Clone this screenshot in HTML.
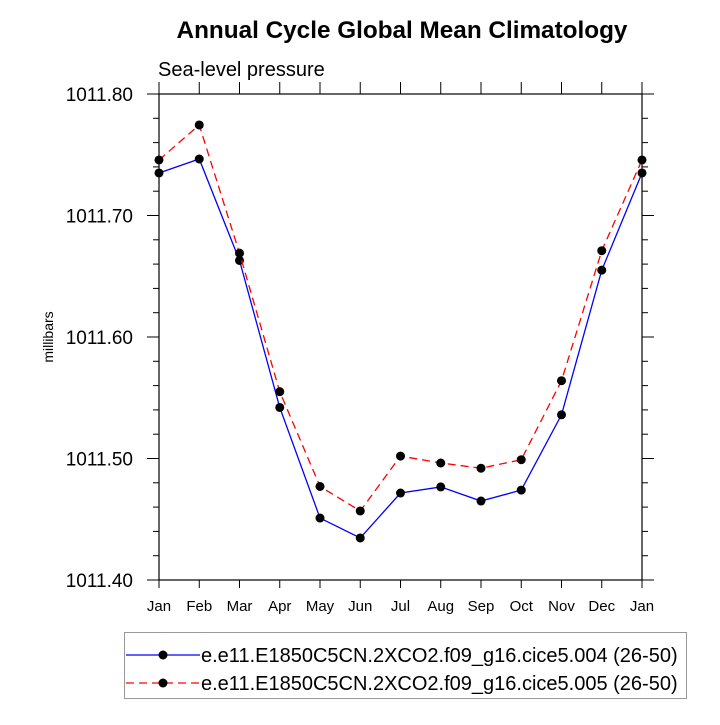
<!DOCTYPE html>
<html><head><meta charset="utf-8"><style>
body{margin:0;background:#fff;}
svg text{font-family:"Liberation Sans",sans-serif;fill:#000;}
</style></head><body>
<svg id="chart" width="720" height="720" viewBox="0 0 720 720" xmlns="http://www.w3.org/2000/svg">
<text x="402" y="38" font-size="24.3" font-weight="bold" text-anchor="middle">Annual Cycle Global Mean Climatology</text>
<text x="158" y="76" font-size="20">Sea-level pressure</text>
<text x="0" y="0" font-size="14" text-anchor="middle" transform="translate(53,337) rotate(-90)">millibars</text>
<g id="axes"></g>
<g id="series"></g>
<g>
<rect x="124.5" y="632.5" width="562" height="66" fill="none" stroke="#999" stroke-width="1"/>
<line x1="126" y1="655" x2="200" y2="655" stroke="#0000ff" stroke-width="1.3"/>
<circle cx="163" cy="655" r="4.5" fill="#000"/>
<text x="201" y="662" font-size="20">e.e11.E1850C5CN.2XCO2.f09_g16.cice5.004 (26-50)</text>
<line x1="126" y1="683" x2="200" y2="683" stroke="#ff0000" stroke-width="1.3" stroke-dasharray="8,5"/>
<circle cx="163" cy="683" r="4.5" fill="#000"/>
<text x="201" y="690" font-size="20">e.e11.E1850C5CN.2XCO2.f09_g16.cice5.005 (26-50)</text>
</g>
</svg>
<script>
const months = ["Jan","Feb","Mar","Apr","May","Jun","Jul","Aug","Sep","Oct","Nov","Dec","Jan"];
const series004 = [1011.735,1011.7465,1011.663,1011.542,1011.451,1011.4346,1011.4716,1011.4766,1011.465,1011.474,1011.536,1011.655,1011.735];
const series005 = [1011.7457,1011.7745,1011.669,1011.555,1011.477,1011.4568,1011.502,1011.4963,1011.492,1011.499,1011.564,1011.671,1011.7457];
const yTicks = [1011.40,1011.50,1011.60,1011.70,1011.80];
const yTickLabels = ["1011.40","1011.50","1011.60","1011.70","1011.80"];
const X0=159,X1=642,Y0=580,Y1=94,YMIN=1011.40,YMAX=1011.80;
const ns="http://www.w3.org/2000/svg";
function xs(i){return X0+(X1-X0)*i/(months.length-1);}
function ys(v){return Y0-(v-YMIN)/(YMAX-YMIN)*(Y0-Y1);}
function mk(tag,attrs,parent){const e=document.createElementNS(ns,tag);for(const k in attrs)e.setAttribute(k,attrs[k]);parent.appendChild(e);return e;}
const ax=document.getElementById('axes');
const frame=mk('rect',{x:X0,y:Y1,width:X1-X0,height:Y0-Y1,fill:'none',stroke:'#000','stroke-width':1.2},ax);


months.forEach((m,i)=>{
  const x=xs(i);
  mk('line',{x1:x,y1:Y0,x2:x,y2:Y0+8,stroke:'#000'},ax);
  mk('line',{x1:x,y1:Y1,x2:x,y2:Y1-12,stroke:'#000'},ax);
  const t=mk('text',{x:x,y:Y0+31,'font-size':15,'text-anchor':'middle'},ax);
  t.textContent=m;
  
  
});
for(let v=YMIN;v<=YMAX+1e-9;v+=0.02){
  const y=ys(v);
  const major=Math.abs(Math.round(v*10)/10-v)<1e-6;
  const L=major?12:6;
  mk('line',{x1:X0-L,y1:y,x2:X0,y2:y,stroke:'#000'},ax);
  mk('line',{x1:X1,y1:y,x2:X1+L,y2:y,stroke:'#000'},ax);
}
yTicks.forEach((v,i)=>{
  const t=mk('text',{x:X0-26,y:ys(v)+7,'font-size':19,'text-anchor':'end'},ax);
  t.textContent=yTickLabels[i];
  
  
});
const sg=document.getElementById('series');
function draw(vals,color,dash,name){
  const pl=mk('polyline',{points:vals.map((v,i)=>xs(i)+','+ys(v)).join(' '),fill:'none',stroke:color,'stroke-width':1.3,'stroke-dasharray':dash},sg);
  
  
  vals.forEach((v,i)=>{
    const c=mk('circle',{cx:xs(i),cy:ys(v),r:4.5,fill:'#000'},sg);
    
    
  });
}
draw(series004,'#0000ff','none','series-004');
draw(series005,'#ff0000','8,5','series-005');
</script>
</body></html>
